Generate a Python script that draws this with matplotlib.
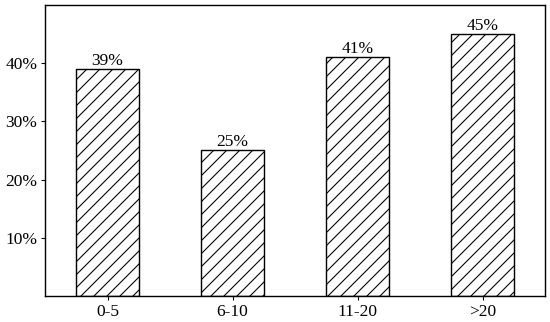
import matplotlib
matplotlib.use("Agg")
import matplotlib.pyplot as plt

categories = ['0-5', '6-10', '11-20', '>20']
values = [39, 25, 41, 45]
yticks = [10, 20, 30, 40]

plt.rcParams['font.family'] = ['Liberation Serif', 'DejaVu Serif']
plt.rcParams['hatch.linewidth'] = 1.0

dpi = 78
fig, ax = plt.subplots(figsize=(550 / dpi, 322 / dpi), dpi=dpi)
fig.subplots_adjust(left=45 / 550, right=545 / 550, bottom=1 - 296 / 322, top=1 - 5 / 322)

x = range(len(categories))
bars = ax.bar(x, values, width=0.5, color='white', edgecolor='black',
              linewidth=1.3, hatch='//')

for xi, v in zip(x, values):
    ax.text(xi, v + 0.05, f'{v}%', ha='center', va='bottom', fontsize=16)

ax.set_xlim(-0.5, 3.5)
ax.set_ylim(0, 50)
ax.set_xticks(list(x))
ax.set_xticklabels(categories, fontsize=16)
ax.set_yticks(yticks)
ax.set_yticklabels([f'{t}%' for t in yticks], fontsize=16)
ax.tick_params(direction='out', length=4, width=1, pad=3)
for spine in ax.spines.values():
    spine.set_linewidth(1.3)

fig.savefig('out.png', dpi=dpi)
